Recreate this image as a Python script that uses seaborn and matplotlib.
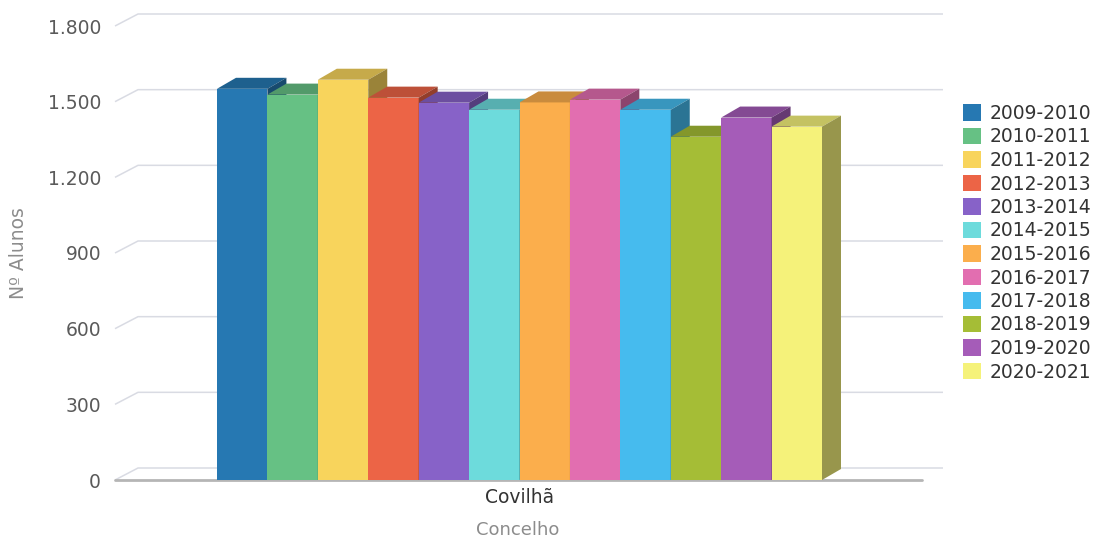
import matplotlib
matplotlib.use("Agg")
import matplotlib.pyplot as plt
from matplotlib.patches import Polygon, Patch
import seaborn as sns
import pandas as pd
import numpy as np
from matplotlib.colors import to_rgb

# =-= Data =-= #
concelho = "Covilhã"
anos = ["2009-2010", "2010-2011", "2011-2012", "2012-2013", "2013-2014", "2014-2015",
        "2015-2016", "2016-2017", "2017-2018", "2018-2019", "2019-2020", "2020-2021"]
alunos = [1551, 1528, 1587, 1516, 1496, 1468, 1497, 1508, 1468, 1361, 1437, 1401]
cores = ["#2678b2", "#66c184", "#f8d45c", "#ec6446", "#8762c8", "#6ddbdc",
         "#fbae4c", "#e26eb0", "#46bbee", "#a5bd36", "#a55cb8", "#f5f27a"]
y_ticks = [0, 300, 600, 900, 1200, 1500, 1800]

df = pd.DataFrame({"concelho": [concelho] * len(anos), "ano": anos, "alunos": alunos})

sns.set_style("white")
plt.rcParams["font.family"] = ["DejaVu Sans"]

W, H = 1105, 544
fig = plt.figure(figsize=(W / 100, H / 100), dpi=100)
# front plane of the fake 3d box, in pixels
left_px, right_px, bottom_px, top_px = 115, 920, 480, 26
ax = fig.add_axes([left_px / W, (H - bottom_px) / H, (right_px - left_px) / W, (bottom_px - top_px) / H])

sns.barplot(data=df, x="concelho", y="alunos", hue="ano", palette=cores, width=0.8,
            saturation=1, linewidth=0, edgecolor="none", legend=False, ax=ax)

px_per_unit = 605 / 0.8
ax.set_xlim(-0.4 - 102 / px_per_unit, 0.4 + 98 / px_per_unit)
ax.set_ylim(0, 1800)
for s in ax.spines.values():
    s.set_visible(False)

# pixel offsets -> data offsets
inv = ax.transData.inverted()
def offset(dx, dy):
    a = inv.transform((0, 0))
    b = inv.transform((dx, dy))
    return b[0] - a[0], b[1] - a[1]

bdx, bdy = offset(19, 11)   # bar depth
gdx, gdy = offset(23, 12)   # wall depth
xl, xr = ax.get_xlim()

# back grid + slanted connectors
for v in y_ticks:
    ax.plot([xl, xl + gdx, xr + gdx], [v, v + gdy, v + gdy], color="#d9dbe3", lw=1.1,
            clip_on=False, zorder=0.5, solid_capstyle="butt")
ax.plot([xl, xr + offset(2, 0)[0]], [0, 0], color="#b5b5b5", lw=2, clip_on=False, zorder=1)

# tops and sides
for i, cont in enumerate(ax.containers):
    for bar in cont:
        x0 = bar.get_x()
        x1 = x0 + bar.get_width()
        h = bar.get_height()
        c = np.array(to_rgb(bar.get_facecolor()))
        bar.set_zorder(3 + i * 0.1)
        top = Polygon([(x0, h), (x0 + bdx, h + bdy), (x1 + bdx, h + bdy), (x1, h)],
                      closed=True, facecolor=c * 0.8, edgecolor="none", zorder=3 + i * 0.1 + 0.05,
                      clip_on=False)
        side = Polygon([(x1, 0), (x1 + bdx, bdy), (x1 + bdx, h + bdy), (x1, h)],
                       closed=True, facecolor=c * 0.62, edgecolor="none", zorder=3 + i * 0.1 + 0.05,
                       clip_on=False)
        ax.add_patch(top)
        ax.add_patch(side)

ax.set_yticks(y_ticks)
ax.set_yticklabels([f"{v:,}".replace(",", ".") for v in y_ticks])
ax.tick_params(axis="y", length=0, pad=10, labelsize=13.5, labelcolor="#5a5a5a")
ax.tick_params(axis="x", length=0, pad=6, labelsize=13.5, labelcolor="#333333")
ax.set_ylabel("Nº Alunos", fontsize=13.5, color="#8c8c8c", labelpad=14)
ax.set_xlabel("Concelho", fontsize=13, color="#8c8c8c", labelpad=10)
ax.grid(False)

handles = [Patch(facecolor=c, edgecolor="none") for c in cores]
leg = fig.legend(handles, anos, loc="upper left", bbox_to_anchor=(963 / W, 1 - 104 / H),
                 frameon=False, fontsize=13.5, handlelength=0.95, handleheight=0.95,
                 handletextpad=0.45, labelspacing=0.24, borderpad=0, borderaxespad=0)
for t in leg.get_texts():
    t.set_color("#333333")

fig.savefig("out.png", dpi=100)
